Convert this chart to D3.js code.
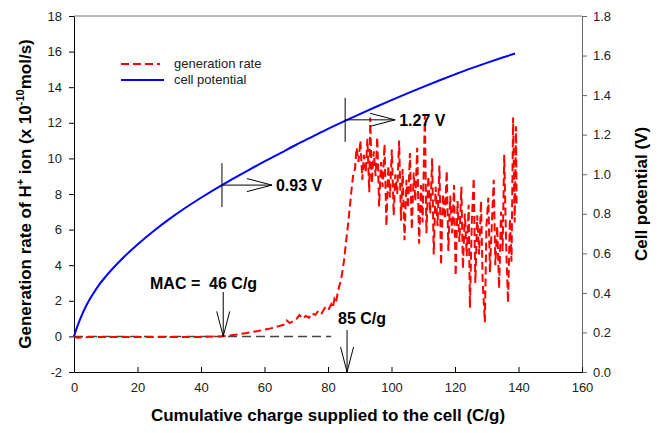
<!DOCTYPE html>
<html><head><meta charset="utf-8">
<script src="https://cdn.jsdelivr.net/npm/d3@7"></script>
<style>
body{margin:0;background:#fff;}
text{font-family:"Liberation Sans",Arial,sans-serif;}
</style></head>
<body><svg id="c" width="659" height="433"></svg>
<script>
// ---- data ----
const potX = [0,0.5,1,2,4,6,8,10,15,20,25,30,35,40,46.6,50,55,60,65,70,75,80,85,90,95,100,105,110,115,120,125,130,135,138.9];
const potV = [0.18,0.205,0.228,0.27,0.34,0.395,0.443,0.483,0.57,0.645,0.712,0.773,0.829,0.881,0.945,0.976,1.021,1.065,1.107,1.149,1.189,1.229,1.267,1.304,1.340,1.375,1.409,1.442,1.474,1.505,1.535,1.563,1.590,1.610];

const genX = [0,1,2,3,5,10,15,20,25,30,35,40,46,48,50,52,54,56,58,60,62,64,66,67,68,70,71,72,73,74,75,76,77,78,79,80,81,81.5,82,82.5,83,83.5,84,84.5,85,85.5,86,86.5,87,87.5,88,
88.5,89.0,89.6,90.2,90.8,91.3,91.9,92.4,93.0,93.3,93.8,94.4,95.0,95.5,96.1,96.7,97.2,97.8,98.4,99.0,99.5,100.1,100.7,101.2,101.8,102.4,103.0,103.5,104.1,104.7,105.2,105.8,106.4,107.0,107.5,108.1,108.7,109.3,109.8,110.5,111.0,111.6,112.2,112.8,113.3,113.9,114.5,115.1,115.6,116.2,116.8,117.4,117.9,118.5,119.1,119.7,120.2,120.8,121.4,122.0,122.5,123.1,123.7,124.3,124.7,125.3,125.9,126.4,127.0,127.6,128.2,128.7,129.4,129.9,130.5,131.0,131.6,132.2,132.7,133.3,133.9,134.5,135.0,135.5,136.1,136.7,137.3,137.8,138.3,138.8,139.2,139.4];
const genY = [0,-0.08,-0.06,-0.05,-0.04,-0.04,-0.04,-0.04,-0.04,-0.04,-0.04,-0.03,0,0.03,0.08,0.12,0.18,0.25,0.3,0.38,0.45,0.55,0.65,0.9,0.75,0.95,1.2,1.0,1.15,1.05,1.3,1.2,1.45,1.3,1.6,1.45,1.8,1.6,2.1,1.9,2.4,2.8,3.1,3.6,4.2,5.0,5.8,6.6,7.5,8.4,9.2,
9.4,10.6,9.8,11.0,8.8,10.2,9.2,11.1,8.1,12.3,8.6,10.4,9.0,11.2,7.3,9.8,8.4,10.8,6.2,9.6,7.8,10.5,6.8,9.1,8.0,11.0,6.5,9.4,5.4,8.8,7.2,10.3,6.0,9.2,7.6,10.6,5.2,8.5,6.4,12.4,5.8,9.0,6.9,10.0,4.6,8.4,6.2,9.6,4.0,8.0,6.6,9.3,4.8,7.9,5.8,8.5,3.4,7.6,5.3,8.4,3.8,6.9,4.5,7.4,1.6,6.5,8.9,3.0,6.8,4.6,7.6,3.2,0.8,6.2,7.8,3.6,6.3,8.8,4.0,6.2,2.7,7.0,4.8,10.2,5.2,1.9,6.6,4.2,12.3,6.4,11.8,7.4];

const baseX = [0, 81];
const baseY = [0, 0];

const leftTicks = [-2,0,2,4,6,8,10,12,14,16,18];
const rightTicks = [0,0.2,0.4,0.6,0.8,1.0,1.2,1.4,1.6,1.8];
const bottomTicks = [0,20,40,60,80,100,120,140,160];

const potMarkX = [46.6, 85.4];
const potMarkV = [0.945, 1.275];
const potMarkLabel = ["0.93 V", "1.27 V"];

const chargeArrowX = [47, 86];
const chargeArrowTop = [292, 330];
const chargeArrowBase = [0, -2];
const chargeLabel = ["MAC =  46 C/g", "85 C/g"];

const legendNames = ["generation rate", "cell potential"];
const legendColors = ["#ff0000", "#0000ff"];

// ---- chart ----
const svg = d3.select("#c");
const L = 74, R = 582, T = 16, B = 372;
const x = d3.scaleLinear().domain([0,160]).range([L,R]);
const yL = d3.scaleLinear().domain([-2,18]).range([B,T]);
const yR = d3.scaleLinear().domain([0,1.8]).range([B,T]);

svg.append("line").attr("x1",L).attr("x2",R).attr("y1",T).attr("y2",T).attr("stroke","#777").attr("stroke-width",1);

const axL = svg.append("g").attr("transform",`translate(${L},0)`)
  .call(d3.axisLeft(yL).tickValues(leftTicks).tickSizeInner(5).tickSizeOuter(0).tickPadding(7).tickFormat(d=>String(d)));
const axR = svg.append("g").attr("transform",`translate(${R},0)`)
  .call(d3.axisRight(yR).tickValues(rightTicks).tickSizeInner(5).tickSizeOuter(0).tickPadding(6).tickFormat(d=>d.toFixed(1)));
const axB = svg.append("g").attr("transform",`translate(0,${B})`)
  .call(d3.axisBottom(x).tickValues(bottomTicks).tickSizeInner(-5).tickSizeOuter(0).tickPadding(11).tickFormat(d=>String(d)));
[axL,axB].forEach(a=>{a.selectAll("path,line").attr("stroke","#000");});
axR.selectAll("path,line").attr("stroke","#666");
[axL,axR,axB].forEach(a=>a.selectAll("text").attr("font-size",13).attr("fill","#222").style("font-family","Liberation Sans, Arial, sans-serif"));

svg.append("path").datum(baseX.map((d,i)=>[d,baseY[i]]))
  .attr("d", d3.line().x(d=>x(d[0])).y(d=>yL(d[1])))
  .attr("fill","none").attr("stroke","#444").attr("stroke-width",1.5).attr("stroke-dasharray","9,5");

svg.append("path").datum(genX.map((d,i)=>[d,genY[i]]))
  .attr("d", d3.line().x(d=>x(d[0])).y(d=>yL(d[1])))
  .attr("fill","none").attr("stroke","#ff0000").attr("stroke-width",2).attr("stroke-dasharray","8,4");

svg.append("path").datum(potX.map((d,i)=>[d,potV[i]]))
  .attr("d", d3.line().curve(d3.curveMonotoneX).x(d=>x(d[0])).y(d=>yR(d[1])))
  .attr("fill","none").attr("stroke","#0000ff").attr("stroke-width",2);

potMarkX.forEach((mx,i)=>{
  const px = x(mx), py = yR(potMarkV[i]);
  const g = svg.append("g").attr("stroke","#000").attr("stroke-width",1).attr("fill","none");
  g.append("line").attr("x1",px).attr("x2",px).attr("y1",py-22).attr("y2",py+22);
  g.append("line").attr("x1",px).attr("x2",px+50).attr("y1",py).attr("y2",py);
  g.append("path").attr("d",`M${px+25},${py-6.5}L${px+50},${py}L${px+25},${py+6.5}`);
  svg.append("text").attr("x",px+54).attr("y",py+6).attr("font-size",16).attr("font-weight","bold").attr("fill","#000").text(potMarkLabel[i]);
});

chargeArrowX.forEach((cx,i)=>{
  const px = x(cx), tip = yL(chargeArrowBase[i]);
  const g = svg.append("g").attr("stroke","#000").attr("stroke-width",1).attr("fill","none");
  g.append("line").attr("x1",px).attr("x2",px).attr("y1",chargeArrowTop[i]).attr("y2",tip);
  g.append("path").attr("d",`M${px-6.5},${tip-25}L${px},${tip}L${px+6.5},${tip-25}`);
});
svg.append("text").attr("x",150).attr("y",289).attr("font-size",16).attr("font-weight","bold").attr("xml:space","preserve").style("white-space","pre").text(chargeLabel[0]);
svg.append("text").attr("x",338).attr("y",324).attr("font-size",16).attr("font-weight","bold").text(chargeLabel[1]);

const lg = svg.append("g");
lg.append("line").attr("x1",121).attr("x2",160).attr("y1",64).attr("y2",64).attr("stroke",legendColors[0]).attr("stroke-width",2).attr("stroke-dasharray","8,4");
lg.append("line").attr("x1",121).attr("x2",164).attr("y1",80).attr("y2",80).attr("stroke",legendColors[1]).attr("stroke-width",2);
legendNames.forEach((n,i)=>{
  lg.append("text").attr("x",174).attr("y",68+i*16).attr("font-size",13).attr("fill","#222").text(n);
});

svg.append("text").attr("x",(L+R)/2).attr("y",421).attr("text-anchor","middle").attr("font-size",17).attr("font-weight","bold").text("Cumulative charge supplied to the cell (C/g)");

const lt = svg.append("text").attr("transform",`translate(31,${(T+B)/2}) rotate(-90)`).attr("text-anchor","middle").attr("font-size",17).attr("font-weight","bold");
lt.append("tspan").text("Generation rate of H");
lt.append("tspan").attr("dy",-7).attr("font-size",11).text("+");
lt.append("tspan").attr("dy",7).text(" ion (x 10");
lt.append("tspan").attr("dy",-7).attr("font-size",11).text("-10");
lt.append("tspan").attr("dy",7).text("mol/s)");

svg.append("text").attr("transform",`translate(647,${(T+B)/2}) rotate(-90)`).attr("text-anchor","middle").attr("font-size",17).attr("font-weight","bold").text("Cell potential (V)");
</script></body></html>
